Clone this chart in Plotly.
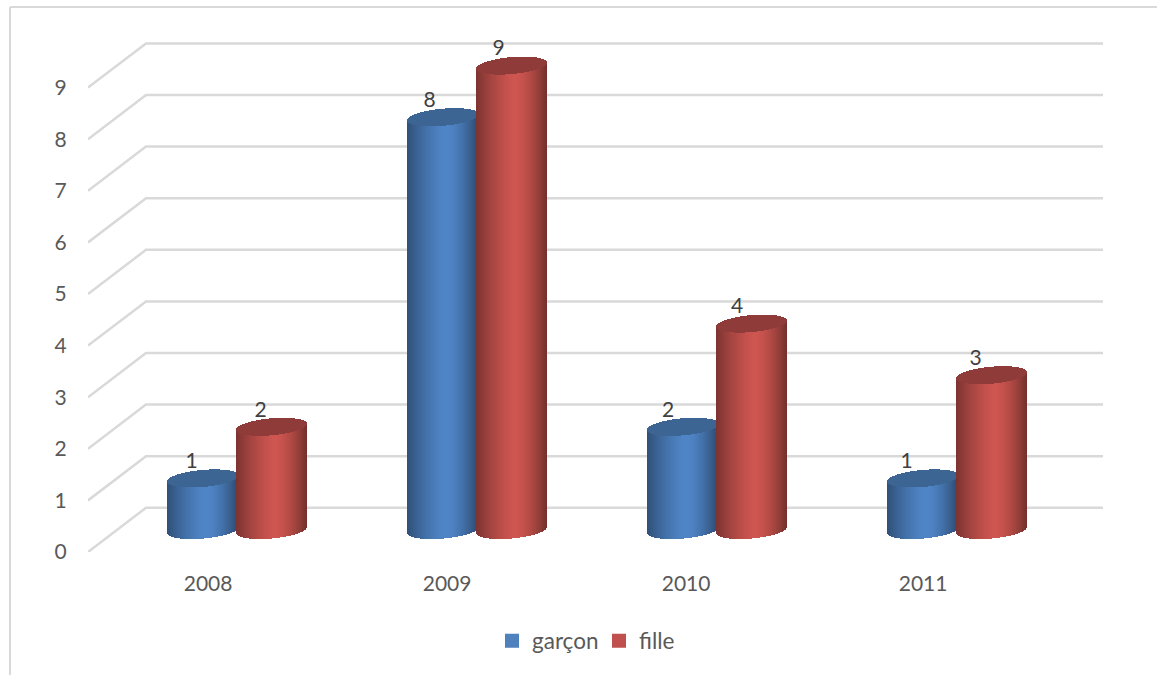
import math
import plotly.graph_objects as go

# chart values
years = ["2008", "2009", "2010", "2011"]
garcon = [1, 8, 2, 1]
fille = [2, 9, 4, 3]
y_ticks = [0, 1, 2, 3, 4, 5, 6, 7, 8, 9]

# figure geometry, in pixels
W, H = 1157, 675
left, right, top, bottom = 88, 1103, 30, 552
px_x = 240.0   # pixels per category
px_y = 51.6    # pixels per value unit
x_min = -(237.1 - left) / px_x
x_max = x_min + (right - left) / px_x
y_max = (bottom - top) / px_y

# oblique depth of the floor/walls
wall_dx = 58 / px_x
wall_dy = 44.2 / px_y
cyl_dy = 22 / px_y
cyl_half = 35.5 / px_x
cyl_shift = 34.4 / px_x
ell_b = 8.5 / px_y
ell_tilt = 3 / px_y
n_strips = 71

# small horizontal offsets of the labels, the 3d view skews them
tick_shift = [-29, -30, -31, -34]
label_shift = [-11, -13, -14.5, -16]

BLUE = (80, 134, 200)
RED = (207, 86, 81)
BLUE_TOP = "#3d6594"
RED_TOP = "#8e3b39"


def shade(rgb, t):
    # darker to the sides of the cylinder, brightest just past the middle
    peak = 0.55
    if t < peak:
        f = 1 - 0.40 * ((peak - t) / peak) ** 1.4
    else:
        f = 1 - 0.45 * ((t - peak) / (1 - peak)) ** 1.6
    return "rgb(%d,%d,%d)" % tuple(c * f for c in rgb)


def cylinders(values, shift, rgb, top_color, name):
    xs, bases, heights, widths, colors = [], [], [], [], []
    top_base, top_h = [], []
    for i, v in enumerate(values):
        for s in range(n_strips):
            t = (s + 0.5) / n_strips
            u = 2 * t - 1
            arc = ell_b * math.sqrt(1 - u * u)
            lean = ell_tilt * u
            xs.append(i + shift + u * cyl_half)
            widths.append(2 * cyl_half / n_strips)
            base = cyl_dy + lean - arc
            up = v + cyl_dy + lean - arc
            bases.append(base)
            heights.append(up - base)
            colors.append(shade(rgb, t))
            top_base.append(up)
            top_h.append(2 * arc)
    body = go.Bar(x=xs, y=heights, base=bases, width=widths, name=name,
                  marker=dict(color=colors, line=dict(width=0)),
                  showlegend=False, hoverinfo="skip")
    cap = go.Bar(x=xs, y=top_h, base=top_base, width=widths, name=name,
                 marker=dict(color=top_color, line=dict(width=0)),
                 showlegend=False, hoverinfo="skip")
    return [body, cap]


fig = go.Figure()

# side wall and back wall grid lines, under the bars
for v in y_ticks:
    fig.add_shape(type="path", xref="x", yref="y", layer="below",
                  path="M %f %f L %f %f L %f %f" % (x_min, v, x_min + wall_dx, v + wall_dy,
                                                    x_max, v + wall_dy),
                  line=dict(color="#d9d9d9", width=2.5))

for tr in cylinders(garcon, -cyl_shift, BLUE, BLUE_TOP, "garçon"):
    fig.add_trace(tr)
for tr in cylinders(fille, cyl_shift, RED, RED_TOP, "fille"):
    fig.add_trace(tr)

# data labels
lab_x, lab_y, lab_t = [], [], []
for i in range(len(years)):
    for v, sh in ((garcon[i], -cyl_shift), (fille[i], cyl_shift)):
        lab_x.append(i + sh + label_shift[i] / px_x)
        lab_y.append(v + cyl_dy + 15.5 / px_y)
        lab_t.append(str(v))
fig.add_trace(go.Scatter(x=lab_x, y=lab_y, text=lab_t, mode="text", showlegend=False,
                         textposition="middle center", hoverinfo="skip", cliponaxis=False,
                         textfont=dict(family="Lato", size=21, color="#404040")))

# legend entries
fig.add_trace(go.Scatter(x=[None], y=[None], mode="markers", name="garçon",
                         marker=dict(symbol="square", size=14, color="#4f81bd")))
fig.add_trace(go.Scatter(x=[None], y=[None], mode="markers", name="fille",
                         marker=dict(symbol="square", size=14, color="#c0504d")))

# chart frame, top and left only
pw, ph = right - left, bottom - top
fig.add_shape(type="line", xref="paper", yref="paper", layer="below",
              x0=(10 - left) / pw, x1=(W - left) / pw,
              y0=(bottom - 7) / ph, y1=(bottom - 7) / ph,
              line=dict(color="#d9d9d9", width=2))
fig.add_shape(type="line", xref="paper", yref="paper", layer="below",
              x0=(10 - left) / pw, x1=(10 - left) / pw,
              y0=(bottom - 7) / ph, y1=(bottom - H) / ph,
              line=dict(color="#d9d9d9", width=2))

fig.update_layout(
    width=W, height=H,
    margin=dict(l=left, r=W - right, t=top, b=H - bottom, autoexpand=False),
    paper_bgcolor="white", plot_bgcolor="white",
    barmode="overlay", bargap=0,
    font=dict(family="Lato", size=21, color="#595959"),
    xaxis=dict(range=[x_min, x_max], showgrid=False, zeroline=False, showline=False,
               tickmode="array",
               tickvals=[i + s / px_x for i, s in enumerate(tick_shift)],
               ticktext=years, ticks="outside", ticklen=13, tickcolor="rgba(0,0,0,0)"),
    yaxis=dict(range=[0, y_max], showgrid=False, zeroline=False, showline=False,
               tickmode="array", tickvals=y_ticks, ticks="outside", ticklen=16,
               tickcolor="rgba(0,0,0,0)"),
    legend=dict(orientation="h", x=(492 - left) / pw, xanchor="left",
                y=(bottom - 641) / ph, yanchor="middle", bgcolor="rgba(0,0,0,0)",
                font=dict(family="Lato", size=22.5, color="#595959"), itemclick=False,
                entrywidthmode="pixels", entrywidth=62),
)

fig.write_html("out.html", config={"displayModeBar": False},
               post_script="document.body.style.margin='0';")
